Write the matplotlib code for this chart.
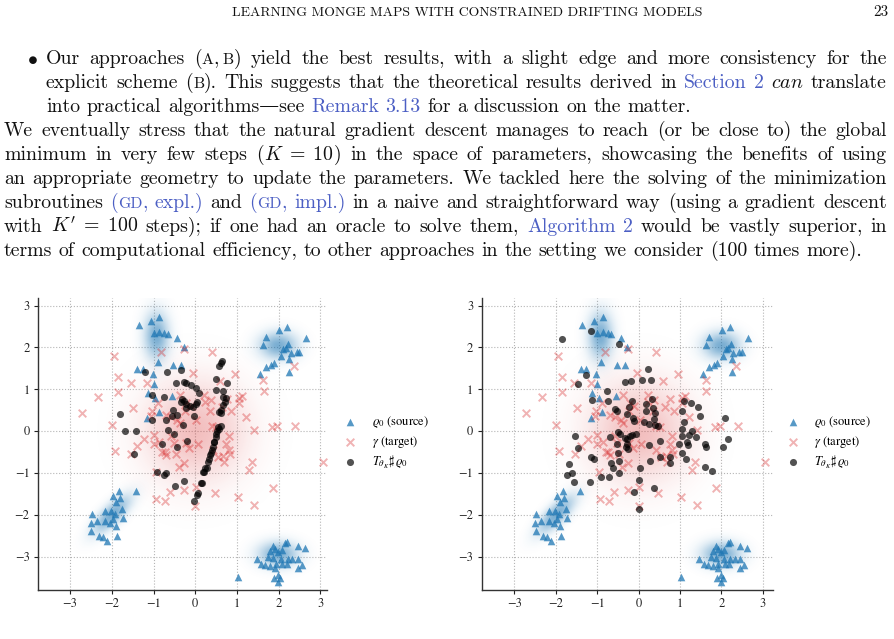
import numpy as np
import matplotlib
matplotlib.use("Agg")
import matplotlib.pyplot as plt
from matplotlib.colors import to_rgb

# ------------------------------------------------------------------ data
source_points = [
    # upper-left cluster
    (-1.36, 2.54), (-1.07, 2.62), (-0.87, 2.73), (-1.00, 2.35), (-0.86, 2.37),
    (-0.74, 2.34), (-0.66, 2.32), (-0.43, 2.22), (-0.27, 2.02), (-0.90, 1.65),
    (-0.53, 1.57), (-0.34, 1.59), (-1.40, 1.48), (-1.26, 1.48), (-1.02, 1.37),
    (-1.00, 1.12), (-1.13, 0.91), (-0.96, 0.80), (-0.55, 0.84), (-1.15, 0.31),
    (-0.88, 0.45),
    # upper-right cluster
    (1.70, 2.24), (1.63, 2.06), (2.01, 2.42), (2.21, 2.48), (2.65, 2.22),
    (2.23, 2.08), (2.17, 1.98), (2.11, 1.95), (2.29, 1.87), (2.43, 1.90),
    (2.49, 1.88), (2.05, 1.79), (2.25, 1.72), (1.89, 1.63), (1.81, 1.58),
    (1.70, 1.54), (2.25, 1.42), (1.55, 1.36),
    # lower-left cluster
    (-1.83, -1.44), (-1.41, -1.44), (-1.97, -1.55), (-1.81, -1.61), (-1.89, -1.70),
    (-1.75, -1.86), (-2.17, -1.92), (-2.02, -1.92), (-2.47, -1.98), (-1.93, -1.99),
    (-2.35, -2.14), (-2.16, -2.14), (-1.96, -2.10), (-1.72, -2.09), (-2.50, -2.20),
    (-2.04, -2.21), (-1.90, -2.28), (-2.49, -2.39), (-2.30, -2.51), (-2.21, -2.53),
    (-2.12, -2.62), (-1.88, -2.51),
    # lower-right cluster
    (2.21, -2.65), (2.16, -2.68), (2.46, -2.74), (2.63, -2.79), (1.87, -2.74),
    (1.91, -2.82), (2.07, -2.85), (1.79, -2.87), (1.99, -2.90), (1.75, -3.01),
    (1.87, -3.03), (2.06, -3.05), (2.22, -3.05), (2.46, -3.05), (1.47, -3.05),
    (1.58, -3.17), (1.67, -3.21), (1.93, -3.19), (2.09, -3.17), (2.19, -3.19),
    (2.55, -3.21), (2.46, -3.28), (1.91, -3.27), (1.99, -3.44), (1.89, -3.52),
    (2.03, -3.52), (1.99, -3.62), (1.03, -3.48), (1.80, -3.22), (2.33, -3.06),
]

target_points = [
    (-2.72, 0.43), (-2.34, 0.81), (-1.94, 1.80), (-1.84, 1.29), (-1.85, 0.94),
    (-1.99, 0.14), (-1.92, -0.47), (-1.55, 1.16), (-1.48, 0.55), (-1.40, -0.35),
    (-1.53, -0.55), (-1.15, 1.14), (-0.82, 1.90), (-1.06, 0.35), (-1.00, -0.09),
    (-1.00, -0.31), (-0.95, -0.97), (-0.94, -1.62), (-0.72, -1.67), (-0.60, -1.46),
    (-0.26, -1.40), (0.00, -1.80), (0.02, -1.33), (0.47, -1.47), (0.41, 1.88),
    (-0.26, 1.96), (-0.05, 1.38), (-0.10, 0.59), (-0.24, 0.47), (-0.43, 0.26),
    (-0.89, 0.66), (-0.57, 0.34), (-0.79, -0.49), (-0.69, -0.57), (-0.47, -0.55),
    (-0.39, -0.85), (-0.26, -0.76), (-0.57, -0.13), (-0.51, -0.29), (-0.22, -0.29),
    (-0.14, -0.40), (0.06, -0.31), (0.38, 0.75), (0.41, 0.11), (0.35, 0.47),
    (0.22, 0.85), (0.59, 1.20), (0.77, 0.76), (0.85, 0.47), (0.81, -0.13),
    (0.75, -0.31), (0.66, -0.59), (0.83, -0.55), (0.68, -0.75), (0.55, -0.63),
    (0.96, 1.36), (1.05, 0.79), (1.13, 0.84), (1.21, 0.34), (1.03, -1.57),
    (1.36, -0.75), (1.30, -0.93), (1.41, 0.03), (1.41, -1.78), (1.63, 1.22),
    (1.64, 0.95), (1.87, -1.35), (1.85, 0.09), (1.97, 0.11), (2.39, 0.11),
    (2.36, 1.56), (3.06, -0.75), (1.05, 0.66), (-1.23, -0.18), (-1.03, 0.47),
    (-0.37, 0.86), (-0.21, 0.68), (-0.37, 0.20), (0.03, 0.26), (0.23, 0.70),
    (0.64, 0.58), (0.51, 0.10), (0.43, -0.45), (0.80, -0.45), (-0.86, -0.26),
    (-0.73, -0.50), (-0.69, 0.38),
]

pushforward_left = [
    (-1.21, 1.40), (-1.80, 0.41), (-1.69, -0.01), (-1.41, 0.00), (-1.46, -0.55),
    (-1.03, 0.26), (-1.03, 0.87), (-0.74, 0.82), (-0.67, 1.41), (-0.34, 1.45),
    (-0.46, 1.16), (-0.27, 1.17), (-0.21, 1.15), (-0.10, 1.10), (0.02, 1.04),
    (0.09, 0.91), (-0.32, 0.76), (-0.34, 0.70), (-0.26, 0.72), (-0.22, 0.65),
    (-0.12, 0.61), (0.03, 0.65), (0.05, 0.70), (-0.53, 0.51), (-0.55, 0.37),
    (-0.43, 0.39), (-0.71, 0.27), (-0.02, 0.37), (-0.65, 0.03), (-0.51, -0.07),
    (-0.43, -0.37), (-0.79, -0.31), (-0.19, -0.23), (-0.92, -0.97), (-0.75, -1.05),
    (-0.69, -1.00), (-0.49, -1.32), (-0.28, -1.20), (-0.29, 0.14), (-0.21, 0.55),
    (-0.05, 0.58),
    (0.61, 1.63), (0.64, 1.67), (0.58, 1.56), (0.50, 1.24), (0.77, 1.16),
    (0.50, 0.98), (0.66, 0.96), (0.67, 0.82), (0.74, 0.78), (0.71, 0.70),
    (0.66, 0.62), (0.61, 0.50), (0.56, 0.46), (0.63, 0.43), (0.61, 0.12),
    (0.58, 0.06), (0.55, 0.09), (0.53, -0.01), (0.51, -0.06), (0.49, -0.15),
    (0.46, -0.26), (0.45, -0.27), (0.42, -0.37), (0.40, -0.45), (0.38, -0.53),
    (0.35, -0.57), (0.32, -0.68), (0.31, -0.73), (0.28, -0.89), (0.23, -0.89),
    (0.22, -0.97), (0.19, -0.99), (0.16, -1.25), (0.15, -1.25), (0.07, -1.48),
    (0.05, -1.53), (-0.03, -1.67),
]

pushforward_right = [
    (-1.84, 2.19), (-1.15, 2.38), (-0.47, 2.08), (-1.26, 1.34), (-1.47, 1.12),
    (-1.13, 0.73), (-0.77, 0.96), (-0.74, 0.72), (-0.33, 1.18), (-0.18, 1.19),
    (0.08, 1.22), (0.22, 1.48), (0.29, 1.23), (-0.17, 0.72), (-0.56, 0.52),
    (-0.51, 0.49), (-0.28, 0.40), (-0.14, 0.32), (-0.12, 0.23), (-0.23, 0.58),
    (0.19, 0.65), (0.33, 0.77), (0.35, 0.55), (0.40, 0.43), (0.19, 0.49),
    (0.38, 0.29), (0.40, 0.15), (0.46, 0.13), (0.14, 0.21), (0.26, 0.16),
    (-1.54, -0.13), (-1.46, -0.41), (-1.67, -0.80), (-1.62, -1.01), (-1.73, -1.06),
    (-1.56, -1.22), (-1.14, -0.63), (-1.08, -0.68), (-1.18, -1.21), (-0.92, -1.11),
    (-0.72, -1.09), (-0.69, -0.15), (-0.52, -0.31), (-0.50, -0.53), (-0.48, -0.72),
    (-0.66, -0.76), (-0.62, -0.88), (-0.47, -1.01), (-0.49, -0.02), (-0.45, -0.07),
    (-0.33, -0.17), (-0.28, -0.19), (-0.21, -0.12), (-0.17, -0.10), (-0.06, -0.06),
    (-0.31, -0.37), (-0.25, -0.43), (-0.28, -0.31), (0.04, -0.88), (0.02, -1.16),
    (-0.10, -1.46), (0.00, -1.86), (0.37, -1.35), (0.26, -0.33), (0.27, -0.71),
    (0.51, -0.25), (0.52, -0.61), (0.76, -0.61), (0.76, -0.77), (0.97, -0.31),
    (1.05, -0.13), (1.06, 0.04), (1.10, 0.21), (1.06, 0.48), (1.10, 0.72),
    (1.26, 0.68), (1.44, 0.57), (1.48, 0.35), (1.21, -0.09), (1.16, -0.27),
    (1.19, -0.33), (1.04, -0.53), (1.15, -0.68), (1.30, 0.00), (1.38, -0.14),
    (1.61, -0.32), (1.64, -0.37), (1.61, -0.85), (1.78, -0.96), (2.09, 0.32),
    (2.05, -0.37), (2.15, -0.19),
]

x_ticks = [-3, -2, -1, 0, 1, 2, 3]
y_ticks = [-3, -2, -1, 0, 1, 2, 3]
legend_labels = [r"$\varrho_0$ (source)", r"$\gamma$ (target)",
                 r"$T_{\theta_K}\sharp\,\varrho_0$"]

# density shading (centre x, centre y, sigma x, sigma y, correlation)
source_blobs = [(-0.93, 2.28, 0.20, 0.38, 0.0), (2.00, 2.05, 0.30, 0.22, 0.0),
                (-2.00, -2.00, 0.30, 0.30, 0.75), (2.00, -2.95, 0.32, 0.20, 0.0)]
target_blobs = [(0.0, 0.0, 0.80, 0.80, 0.0)]

header_text = "LEARNING MONGE MAPS WITH CONSTRAINED DRIFTING MODELS"
page_number = "23"

# each line: list of (text, kind); kinds: n normal, sc small caps, b link,
# bsc link small caps, m math, i italic, thin (thin space)
body_lines = [
    [("Our approaches (", "n"), ("A", "sc"), (",", "n"), ("", "thin"), ("B", "sc"),
     (") yield the best results, with a slight edge and more consistency for the", "n")],
    [("explicit scheme (", "n"), ("B", "sc"),
     ("). This suggests that the theoretical results derived in ", "n"),
     ("Section 2", "b"), (" ", "n"), ("can", "i"), (" translate", "n")],
    [("into practical algorithms\u2014see ", "n"), ("Remark 3.13", "b"),
     (" for a discussion on the matter.", "n")],
    [("We eventually stress that the natural gradient descent manages to reach (or be close to) the global", "n")],
    [("minimum in very few steps (", "n"), (r"$K\;=\;10$", "m"),
     (") in the space of parameters, showcasing the benefits of using", "n")],
    [("an appropriate geometry to update the parameters. We tackled here the solving of the minimization", "n")],
    [("subroutines ", "n"), ("(", "b"), ("GD", "bsc"), (", expl.)", "b"), (" and ", "n"),
     ("(", "b"), ("GD", "bsc"), (", impl.)", "b"),
     (" in a naive and straightforward way (using a gradient descent", "n")],
    [("with ", "n"), (r"$K'\;=\;100$", "m"),
     (" steps); if one had an oracle to solve them, ", "n"), ("Algorithm 2", "b"),
     (" would be vastly superior, in", "n")],
    [("terms of computational efficiency, to other approaches in the setting we consider (100 times more).", "n")],
]
# layout of the text lines: (baseline px, left px, right px, justified)
line_layout = [(64, 46, 887, True), (88, 46, 887, True), (112, 46, 887, False),
               (136, 4, 887, True), (160, 4, 887, True), (184, 4, 887, True),
               (208, 4, 887, True), (232, 4, 887, True), (256, 4, 887, False)]

# ------------------------------------------------------------------ figure
W, H, DPI = 895, 639, 100
plt.rcParams["font.family"] = ["STIXGeneral", "DejaVu Serif"]
plt.rcParams["mathtext.fontset"] = "stix"
fig = plt.figure(figsize=(W / DPI, H / DPI), dpi=DPI)
renderer = fig.canvas.get_renderer()

BODY_FONT = ["cmr10", "DejaVu Serif"]
TEXT_COLOR = "#111111"
LINK_COLOR = "#4c5fc4"


def make_piece(text, kind, fs):
    if kind == "thin":
        return None, 0.17 * fs * DPI / 72
    props = dict(family=BODY_FONT, fontsize=fs, color=TEXT_COLOR,
                 va="baseline", ha="left", math_fontfamily="cm")
    if kind in ("sc", "bsc"):
        text = text.upper()
        props["fontsize"] = fs * 0.8
    if kind in ("b", "bsc"):
        props["color"] = LINK_COLOR
    if kind == "i":
        text = r"$\mathit{" + text + "}$"
    t = fig.text(0, 0, text, **props)
    w = t.get_window_extent(renderer).width
    return t, w


def split_words(segs):
    words = [[]]
    for text, kind in segs:
        if kind in ("m", "thin"):
            words[-1].append((text, kind))
            continue
        parts = text.split(" ")
        for i, p in enumerate(parts):
            if i > 0:
                words.append([])
            if p:
                words[-1].append((p, kind))
    return [w for w in words if w]


def build_words(segs, fs):
    items = []
    for word in split_words(segs):
        pieces = [make_piece(t, k, fs) for t, k in word]
        items.append((pieces, sum(w for _, w in pieces)))
    return items


def natural_width(segs, fs):
    items = build_words(segs, fs)
    total = sum(w for _, w in items) + (len(items) - 1) * 0.333 * fs * DPI / 72
    for pieces, _ in items:
        for t, _ in pieces:
            if t is not None:
                t.remove()
    return total


def layout_line(segs, baseline, left, right, fs, justify):
    items = build_words(segs, fs)
    total = sum(w for _, w in items)
    if justify and len(items) > 1:
        gap = (right - left - total) / (len(items) - 1)
    else:
        gap = 0.333 * fs * DPI / 72
    x = left
    for pieces, _ in items:
        for t, w in pieces:
            if t is not None:
                t.set_position((x / W, 1 - baseline / H))
            x += w
        x += gap


# body font size fitted to the natural width of the last line
body_fs = 10 * (865 - 4) / natural_width(body_lines[-1], 10)
for segs, (bl, l, r, j) in zip(body_lines, line_layout):
    layout_line(segs, bl, l, r, body_fs, j)
fig.text(32 / W, 1 - 64 / H, r"$\bullet$", fontsize=body_fs, ha="center",
         va="baseline", math_fontfamily="cm", color=TEXT_COLOR)

# running header
tmp = fig.text(0, 0, header_text, family=BODY_FONT, fontsize=10)
hw = tmp.get_window_extent(renderer).width
tmp.remove()
header_fs = 10 * (703 - 232) / hw
fig.text(232 / W, 1 - 16.5 / H, header_text, family=BODY_FONT, fontsize=header_fs,
         va="baseline", ha="left", color=TEXT_COLOR)
fig.text(888 / W, 1 - 16.5 / H, page_number, family=BODY_FONT, fontsize=header_fs * 1.1,
         va="baseline", ha="right", color=TEXT_COLOR)

# ------------------------------------------------------------------ panels
YLIM = (-3.80, 3.18)
panels = [
    dict(rect=[38 / W, 1 - 590 / H, 289 / W, 292 / H], xlim=(-3.77, 3.16),
         pts=pushforward_left, leg_x=1.059),
    dict(rect=[481.7 / W, 1 - 590 / H, 291 / W, 292 / H], xlim=(-3.79, 3.24),
         pts=pushforward_right, leg_x=1.049),
]


def shading(ax, xlim, blobs, color, amax):
    gx = np.linspace(xlim[0], xlim[1], 400)
    gy = np.linspace(YLIM[0], YLIM[1], 400)
    xx, yy = np.meshgrid(gx, gy)
    d = np.zeros_like(xx)
    for cx, cy, sx, sy, rho in blobs:
        dx = (xx - cx) / sx
        dy = (yy - cy) / sy
        q = (dx * dx - 2 * rho * dx * dy + dy * dy) / (1 - rho ** 2)
        d = np.maximum(d, np.exp(-0.5 * q))
    rgba = np.zeros(xx.shape + (4,))
    rgba[..., :3] = to_rgb(color)
    rgba[..., 3] = amax * d
    ax.imshow(rgba, extent=(xlim[0], xlim[1], YLIM[0], YLIM[1]), origin="lower",
              aspect="auto", interpolation="bilinear", zorder=1)


sx_ = [p[0] for p in source_points]
sy_ = [p[1] for p in source_points]
tx_ = [p[0] for p in target_points]
ty_ = [p[1] for p in target_points]

for P in panels:
    ax = fig.add_axes(P["rect"])
    shading(ax, P["xlim"], target_blobs, "#d62728", 0.30)
    shading(ax, P["xlim"], source_blobs, "#1f77b4", 0.60)
    h1 = ax.scatter(sx_, sy_, marker="^", s=30, color="#1f77b4", alpha=0.75,
                    linewidths=0, zorder=3)
    h2 = ax.scatter(tx_, ty_, marker="x", s=30, color="#d62728", alpha=0.35,
                    linewidths=1.4, zorder=3)
    px_ = [p[0] for p in P["pts"]]
    py_ = [p[1] for p in P["pts"]]
    h3 = ax.scatter(px_, py_, marker="o", s=26, color="black", alpha=0.68,
                    linewidths=0, zorder=4)
    ax.set_xlim(P["xlim"])
    ax.set_ylim(YLIM)
    ax.set_xticks(x_ticks)
    ax.set_yticks(y_ticks)
    ax.set_axisbelow(True)
    ax.grid(True, linestyle=":", color="#b5b5b5", linewidth=0.8)
    for s in ("top", "right"):
        ax.spines[s].set_visible(False)
    for s in ("left", "bottom"):
        ax.spines[s].set_color("#333333")
        ax.spines[s].set_linewidth(1.0)
    ax.tick_params(length=3, width=0.8, labelsize=9, colors="#222222", pad=3)
    ax.legend([h1, h2, h3], legend_labels, loc="center left",
              bbox_to_anchor=(P["leg_x"], 0.505), frameon=False, fontsize=9,
              handlelength=1.0, handletextpad=1.2, borderpad=0, borderaxespad=0,
              labelspacing=0.3, scatterpoints=1)

fig.savefig("out.png", dpi=DPI)
